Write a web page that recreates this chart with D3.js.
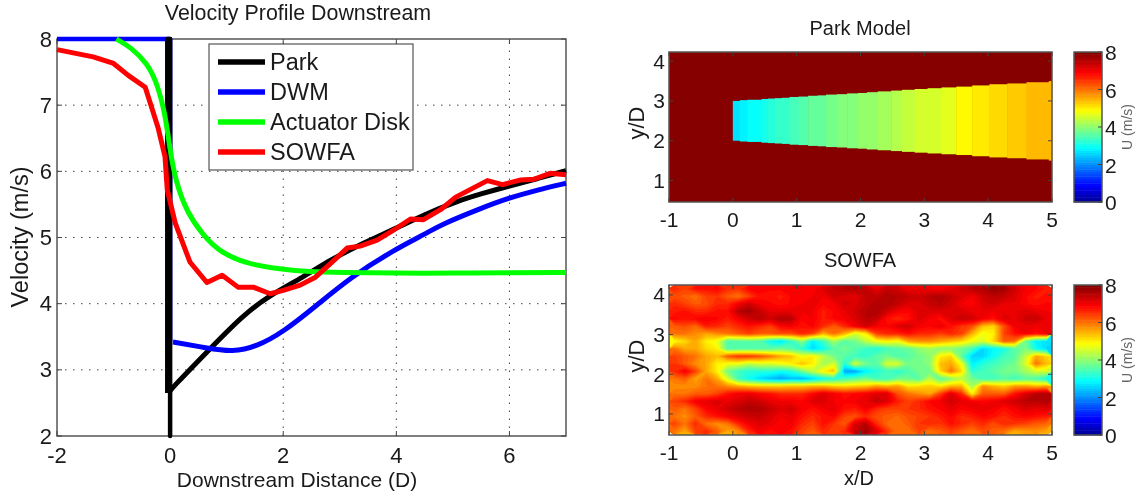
<!DOCTYPE html>
<html>
<head>
<meta charset="utf-8">
<script src="https://cdn.jsdelivr.net/npm/d3@7"></script>
<style>
html, body { margin: 0; padding: 0; background: #fff; }
svg { display: block; filter: blur(0.45px); }
text { font-family: "Liberation Sans", Arial, sans-serif; fill: #1a1a1a; }
.box { fill: none; stroke: #555; stroke-width: 1.5; }
.grid line { stroke: #444; stroke-width: 1; stroke-dasharray: 1.5 6.5; }
.tick-mark { stroke: #444; stroke-width: 1; }
</style>
</head>
<body>
<svg id="chart" width="1147" height="497"></svg>
<script>
// left panel
parkX = [0, 0.05, 0.65, 1.29, 1.77, 2.35, 2.83, 3.42, 4, 4.5, 5.08, 5.5, 6, 6.5, 7];
parkV = [2.68, 2.74, 3.27, 3.83, 4.13, 4.4, 4.66, 4.92, 5.14, 5.35, 5.55, 5.66, 5.78, 5.89, 6.01];
parkSpikeX = [-0.05, -0.05, 0, 0, 0];
parkSpikeV = [2.65, 8, 8, 2, 2.7];
dwmX = [-2, 0, 0, 0.05, 0.65, 1.1, 1.53, 2, 2.6, 3.18, 3.95, 4.55, 4.78, 5.49, 6, 6.5, 7];
dwmV = [8, 8, 3.42, 3.42, 3.33, 3.27, 3.35, 3.57, 3.98, 4.39, 4.81, 5.07, 5.19, 5.44, 5.6, 5.72, 5.82];
diskX = [-0.95, -0.7, -0.4, -0.23, -0.09, 0, 0.09, 0.3, 0.59, 0.88, 1.36, 1.95, 2.47, 3, 4, 5, 6, 7];
diskV = [8, 7.88, 7.63, 7.33, 6.88, 6.32, 5.87, 5.37, 5.03, 4.78, 4.6, 4.52, 4.48, 4.47, 4.46, 4.46, 4.47, 4.47];
sowfaX = [-2, -1.36, -1, -0.74, -0.44, -0.21, -0.09, -0.05, 0.09, 0.35, 0.65, 0.92, 1.2, 1.47, 1.77, 2, 2.3, 2.57, 2.83, 3.13, 3.36, 3.66, 3.95, 4.25, 4.48, 4.78, 5.05, 5.61, 5.88, 6.2, 6.43, 6.72, 7];
sowfaV = [7.84, 7.73, 7.63, 7.45, 7.27, 6.65, 6.22, 5.72, 5.22, 4.63, 4.32, 4.43, 4.25, 4.25, 4.15, 4.2, 4.28, 4.4, 4.6, 4.84, 4.87, 4.96, 5.11, 5.28, 5.27, 5.42, 5.61, 5.86, 5.8, 5.87, 5.88, 5.97, 5.95];
legendNames = ["Park", "DWM", "Actuator Disk", "SOWFA"];
lineColors = ["#000000", "#0000ff", "#00ff00", "#ff0000"];
xTicks = [-2, 0, 2, 4, 6];
yTicks = [2, 3, 4, 5, 6, 7, 8];

// park model bands
bandEdges = [0, 0.11, 0.23, 0.45, 0.55, 0.66, 0.77, 0.89, 1.03, 1.18, 1.33, 1.46, 1.63, 1.79, 1.96, 2.1, 2.27, 2.48, 2.65, 2.85, 3.05, 3.27, 3.5, 3.75, 4.02, 4.3, 4.6, 4.95, 5];
bandU = [2.7, 2.8, 2.95, 3.05, 3.15, 3.25, 3.35, 3.45, 3.55, 3.65, 3.72, 3.8, 3.88, 3.95, 4.02, 4.1, 4.2, 4.3, 4.4, 4.5, 4.6, 4.72, 4.9, 5.02, 5.17, 5.27, 5.38, 5.47, 5.6];
bandTop = [3.0, 3.02, 3.03, 3.05, 3.06, 3.07, 3.08, 3.1, 3.11, 3.13, 3.14, 3.16, 3.17, 3.19, 3.2, 3.22, 3.24, 3.26, 3.28, 3.3, 3.32, 3.34, 3.36, 3.39, 3.42, 3.44, 3.47, 3.5, 3.52];
bandBottom = [2.0, 1.98, 1.97, 1.95, 1.94, 1.93, 1.92, 1.9, 1.89, 1.87, 1.86, 1.84, 1.83, 1.81, 1.8, 1.78, 1.76, 1.74, 1.72, 1.7, 1.68, 1.66, 1.64, 1.61, 1.58, 1.56, 1.53, 1.5, 1.5];
freeStream = 8;

// sowfa field, rows top to bottom
sowfaU = [
  [6.6,6.4,6.8,6.8,6.9,6.6,6.5,6.9,7.0,6.9,6.9,7.0,7.0,6.9,7.2,7.4,7.5,7.6,7.4,7.1,7.4,7.3,7.0,7.1,7.0,6.9,7.1,7.3,7.5,7.6,7.8,7.7,7.3,7.0,6.9,6.7],
  [6.3,6.2,6.0,6.4,6.5,6.2,6.0,6.4,6.8,6.8,6.7,6.9,6.9,7.0,7.0,7.3,7.2,7.1,7.4,7.4,7.6,7.5,7.4,7.3,7.5,7.6,7.4,7.2,7.0,7.3,7.5,7.4,7.2,6.9,6.7,6.8],
  [6.6,6.4,6.2,6.3,6.6,6.6,7.0,7.3,7.0,6.9,6.8,6.9,7.0,7.1,6.9,7.0,7.3,7.2,7.4,7.6,7.6,7.4,7.2,7.2,7.4,7.5,7.3,7.0,6.9,7.2,7.3,7.1,7.1,6.9,6.8,6.9],
  [6.7,6.8,6.6,6.6,6.8,6.8,7.5,7.7,7.4,7.1,7.1,7.1,7.0,7.0,6.7,6.9,7.1,7.3,7.5,7.6,7.3,7.0,6.9,7.2,7.2,7.2,7.2,7.2,7.1,7.1,7.0,7.1,7.1,7.2,7.1,7.0],
  [6.9,6.8,6.9,7.0,6.9,6.7,7.0,7.3,7.5,7.3,7.6,7.5,6.9,7.0,6.7,6.9,7.0,7.2,7.5,7.4,6.8,6.6,6.8,7.2,7.0,6.8,7.2,7.4,7.3,7.0,6.8,7.2,7.1,7.3,7.4,7.1],
  [6.2,6.3,6.1,6.7,6.6,6.4,6.6,6.8,6.6,6.4,6.9,7.0,6.8,6.9,6.6,6.2,6.6,7.0,7.3,7.0,6.9,7.2,7.3,7.0,6.9,7.1,6.8,6.5,6.3,5.4,5.2,6.3,7.0,7.1,7.0,7.0],
  [6.0,6.0,5.8,5.6,5.8,6.0,6.2,6.4,6.2,6.2,6.3,6.3,6.6,6.4,5.5,6.0,5.5,4.6,5.0,6.4,6.6,6.6,6.8,6.6,6.6,6.4,6.6,6.4,5.5,4.8,5.0,6.4,6.8,7.0,6.8,7.0],
  [4.9,5.2,5.6,5.0,4.8,3.5,3.6,3.6,3.6,3.0,2.7,3.3,4.0,2.8,3.4,4.2,3.6,3.8,4.4,4.8,5.0,4.8,5.6,5.8,5.8,5.6,5.4,5.2,4.8,4.6,5.2,6.2,6.0,3.8,2.8,2.7],
  [6.0,5.6,5.6,5.2,5.0,3.6,3.6,3.6,3.6,3.6,3.8,3.6,3.3,2.6,3.0,3.6,3.8,3.6,3.3,3.2,3.4,3.6,3.7,4.0,4.2,4.0,4.0,3.8,3.4,2.6,2.9,3.1,3.6,3.9,3.0,2.6],
  [6.4,6.2,6.0,5.6,5.4,6.2,6.5,6.5,6.3,6.0,5.6,5.4,4.8,5.0,4.4,3.8,3.6,3.4,3.3,3.6,3.8,3.5,3.6,3.8,4.0,5.0,5.2,3.6,2.6,2.6,3.0,3.4,3.6,4.4,5.6,5.2],
  [6.5,6.2,5.8,5.6,5.0,4.8,4.8,4.4,4.6,4.6,4.8,5.0,5.4,5.0,4.2,4.6,3.2,4.6,3.8,3.6,4.6,4.6,3.8,3.8,4.0,5.4,5.6,4.8,2.8,3.2,3.4,3.6,3.8,4.6,6.0,5.4],
  [6.6,7.0,6.4,5.6,5.0,3.8,3.4,3.2,3.2,3.2,3.0,3.2,3.8,4.4,5.0,5.4,2.2,2.2,2.8,3.2,3.4,3.2,3.5,3.8,3.8,5.2,6.0,5.2,3.2,3.4,3.6,3.8,3.8,4.2,4.6,4.6],
  [6.0,6.2,5.6,6.0,5.6,4.6,3.4,3.0,2.6,2.4,2.2,2.4,2.3,2.6,3.0,3.2,3.4,3.6,3.8,3.4,3.4,3.8,3.8,3.6,4.4,3.6,4.0,4.4,3.8,3.4,3.4,3.6,3.4,3.6,3.5,3.0],
  [5.8,5.8,5.8,6.0,6.0,5.8,5.6,5.4,5.3,5.3,5.3,5.4,5.4,5.5,5.5,5.3,5.2,5.3,5.4,5.7,5.5,5.7,5.1,5.2,5.3,5.1,5.5,5.5,4.2,5.8,5.5,5.3,5.7,5.7,5.5,5.7],
  [6.0,6.0,6.2,6.2,6.4,6.8,7.0,7.1,6.9,6.8,6.6,6.6,6.6,6.9,7.2,7.0,6.8,6.9,7.0,7.2,7.2,6.3,6.0,5.8,5.6,6.4,7.2,6.6,5.0,6.2,6.2,6.2,6.8,7.2,7.5,7.6],
  [6.4,6.6,7.0,7.1,7.2,7.1,7.2,7.4,7.3,7.1,7.0,7.0,6.9,7.2,7.2,7.0,6.9,7.0,7.1,7.4,7.2,6.7,6.4,6.6,6.9,7.0,7.3,7.1,7.0,6.9,7.0,7.2,7.3,7.5,7.5,7.6],
  [6.2,6.0,6.4,6.9,7.1,7.3,7.5,7.6,7.6,7.4,7.2,7.3,7.0,6.8,7.0,7.1,6.8,6.7,7.0,6.6,6.4,6.4,6.5,6.6,6.8,6.9,7.1,6.9,7.0,7.1,7.0,6.8,7.0,7.2,7.1,7.2],
  [6.0,5.8,6.2,6.6,6.8,7.0,7.2,7.3,7.4,7.2,7.0,7.1,6.8,6.6,6.8,6.9,6.4,6.3,6.6,6.3,6.2,6.1,6.3,6.4,6.5,6.7,6.9,6.6,6.7,6.9,6.8,6.6,6.8,6.9,6.8,6.7],
  [6.4,6.0,6.6,6.0,5.8,6.0,6.6,7.0,7.2,7.1,6.9,7.0,6.6,6.4,6.8,6.5,6.2,7.2,7.5,6.6,6.1,6.0,6.2,6.5,6.6,6.5,6.8,6.6,6.4,6.6,6.3,6.6,6.5,6.4,6.2,6.1],
  [6.0,5.6,6.4,6.6,6.2,5.6,5.8,6.6,7.0,6.8,7.0,6.8,6.4,6.2,6.6,6.4,6.6,7.4,7.7,7.2,6.5,6.0,6.0,6.4,6.0,6.2,6.4,6.2,6.0,6.3,6.2,6.0,5.6,5.7,5.8,5.6]
];
heatXTicks = [-1, 0, 1, 2, 3, 4, 5];
heatYTicks = [1, 2, 3, 4];
barTicks = [0, 2, 4, 6, 8];

// matlab jet, 64 steps
var jetRaw = d3.scaleLinear()
  .domain([0, 0.89, 2.9, 4.9, 6.9, 8])
  .range(["#00008f", "#0000ff", "#00ffff", "#ffff00", "#ff0000", "#800000"])
  .clamp(true);
function jet(u) {
  return jetRaw((Math.min(Math.floor(u / 0.125), 63) + 0.5) * 0.125);
}

var svg = d3.select("#chart");

// ---- left line chart ----
var x = d3.scaleLinear().domain([-2, 7]).range([57, 566]);
var y = d3.scaleLinear().domain([2, 8]).range([436, 39]);

var line = d3.line()
  .x(function(d) { return x(d[0]); })
  .y(function(d) { return y(d[1]); });

var smooth = d3.line()
  .x(function(d) { return x(d[0]); })
  .y(function(d) { return y(d[1]); })
  .curve(d3.curveBasis);

var gridX = svg.append("g").attr("class", "grid");
gridX.selectAll("line").data(xTicks.slice(1)).enter().append("line")
  .attr("x1", x).attr("x2", x).attr("y1", y(2)).attr("y2", y(8));
var gridY = svg.append("g").attr("class", "grid");
gridY.selectAll("line").data(yTicks.slice(1, -1)).enter().append("line")
  .attr("y1", y).attr("y2", y).attr("x1", x(-2)).attr("x2", x(7));

svg.append("rect").attr("class", "box")
  .attr("x", x(-2)).attr("y", y(8))
  .attr("width", x(7) - x(-2)).attr("height", y(2) - y(8));

xTicks.forEach(function(t) {
  [[y(2), y(2) - 5], [y(8), y(8) + 5]].forEach(function(p) {
    svg.append("line").attr("class", "tick-mark").attr("x1", x(t)).attr("x2", x(t)).attr("y1", p[0]).attr("y2", p[1]);
  });
});
yTicks.forEach(function(t) {
  [[x(-2), x(-2) + 5], [x(7), x(7) - 5]].forEach(function(p) {
    svg.append("line").attr("class", "tick-mark").attr("y1", y(t)).attr("y2", y(t)).attr("x1", p[0]).attr("x2", p[1]);
  });
});

svg.append("g").selectAll("text").data(xTicks).enter().append("text")
  .attr("x", x).attr("y", 463)
  .attr("text-anchor", "middle").attr("font-size", 22)
  .text(function(d) { return d; });
svg.append("g").selectAll("text").data(yTicks).enter().append("text")
  .attr("x", 52).attr("y", function(d) { return y(d) + 7.5; })
  .attr("text-anchor", "end").attr("font-size", 22)
  .text(function(d) { return d; });

svg.append("text").attr("x", 298).attr("y", 20)
  .attr("text-anchor", "middle").attr("font-size", 21.4)
  .text("Velocity Profile Downstream");
svg.append("text").attr("x", 297).attr("y", 487)
  .attr("text-anchor", "middle").attr("font-size", 21)
  .text("Downstream Distance (D)");
svg.append("text").attr("transform", "translate(28,237) rotate(-90)")
  .attr("text-anchor", "middle").attr("font-size", 23.5)
  .text("Velocity (m/s)");

function draw(gen, xs, ys, color, w) {
  svg.append("path")
    .datum(xs.map(function(d, i) { return [d, ys[i]]; }))
    .attr("d", gen)
    .attr("fill", "none")
    .attr("stroke", color)
    .attr("stroke-width", w)
    .attr("stroke-linejoin", "round");
}

draw(smooth, parkX, parkV, lineColors[0], 5);
draw(line, dwmX.slice(0, 3), dwmV.slice(0, 3), lineColors[1], 4.5);
draw(smooth, dwmX.slice(3), dwmV.slice(3), lineColors[1], 5);
draw(line, parkSpikeX, parkSpikeV, lineColors[0], 4.5);
draw(smooth, diskX, diskV, lineColors[2], 5);
draw(line, sowfaX, sowfaV, lineColors[3], 5);

// legend
var legend = svg.append("g");
legend.append("rect").attr("x", 209).attr("y", 44).attr("width", 204).attr("height", 126)
  .attr("fill", "#fff").attr("stroke", "#555").attr("stroke-width", 1.2);
var legendY = d3.scalePoint().domain(legendNames).range([62, 152]);
legendNames.forEach(function(name, i) {
  legend.append("line")
    .attr("x1", 218).attr("x2", 265)
    .attr("y1", legendY(name)).attr("y2", legendY(name))
    .attr("stroke", lineColors[i]).attr("stroke-width", 5.5);
  legend.append("text")
    .attr("x", 270).attr("y", legendY(name) + 8)
    .attr("font-size", 23.5)
    .text(name);
});

// ---- right heat panels ----
var hx = d3.scaleLinear().domain([-1, 5]).range([669, 1052]);

function heatFrame(top, hy, title, titleY, xLabel) {
  var bottom = top + 150;

  // colorbar
  var by = d3.scaleLinear().domain([0, 8]).range([bottom, top]);
  svg.append("g").selectAll("rect").data(d3.range(64)).enter().append("rect")
    .attr("x", 1074).attr("width", 28)
    .attr("y", function(d) { return by((d + 1) * 0.125); })
    .attr("height", by(0) - by(0.125) + 0.5)
    .attr("fill", function(d) { return jet(d * 0.125); });
  svg.append("rect").attr("class", "box").attr("x", 1074).attr("y", top).attr("width", 28).attr("height", 150);
  barTicks.forEach(function(t) {
    svg.append("line").attr("class", "tick-mark").attr("x1", 1098).attr("x2", 1102).attr("y1", by(t)).attr("y2", by(t));
    svg.append("text").attr("x", 1105).attr("y", by(t) + 8).attr("font-size", 21).text(t);
  });
  svg.append("text").attr("transform", "translate(1132," + (top + 75) + ") rotate(-90)")
    .attr("text-anchor", "middle").attr("font-size", 14).style("fill", "#666")
    .text("U (m/s)");

  // frame and ticks
  svg.append("rect").attr("class", "box").attr("x", 669).attr("y", top).attr("width", 383).attr("height", 150);
  heatXTicks.forEach(function(t) {
    [[bottom, bottom - 4], [top, top + 4]].forEach(function(p) {
      svg.append("line").attr("class", "tick-mark").attr("x1", hx(t)).attr("x2", hx(t)).attr("y1", p[0]).attr("y2", p[1]);
    });
    svg.append("text").attr("x", hx(t)).attr("y", bottom + 25)
      .attr("text-anchor", "middle").attr("font-size", 21).text(t);
  });
  heatYTicks.forEach(function(t) {
    [[669, 673], [1052, 1048]].forEach(function(p) {
      svg.append("line").attr("class", "tick-mark").attr("y1", hy(t)).attr("y2", hy(t)).attr("x1", p[0]).attr("x2", p[1]);
    });
    svg.append("text").attr("x", 665).attr("y", hy(t) + 7.5)
      .attr("text-anchor", "end").attr("font-size", 21).text(t);
  });
  svg.append("text").attr("transform", "translate(644," + (top + 71) + ") rotate(-90)")
    .attr("text-anchor", "middle").attr("font-size", 22).text("y/D");
  svg.append("text").attr("x", 860).attr("y", titleY)
    .attr("text-anchor", "middle").attr("font-size", 20).text(title);
  if (xLabel) {
    svg.append("text").attr("x", 859).attr("y", 485)
      .attr("text-anchor", "middle").attr("font-size", 20).text(xLabel);
  }
}

// park model
var parkY = d3.scaleLinear().domain([0.46, 4.23]).range([202, 52]);
svg.append("rect").attr("x", 669).attr("y", 52).attr("width", 383).attr("height", 150).attr("fill", jet(freeStream));
svg.append("g").selectAll("rect").data(bandU).enter().append("rect")
  .attr("x", function(d, i) { return hx(bandEdges[i]); })
  .attr("width", function(d, i) { return hx(bandEdges[i + 1]) - hx(bandEdges[i]) + 0.5; })
  .attr("y", function(d, i) { return parkY(bandTop[i]); })
  .attr("height", function(d, i) { return parkY(bandBottom[i]) - parkY(bandTop[i]); })
  .attr("fill", function(d) { return jet(d); });
heatFrame(52, parkY, "Park Model", 35, null);

// sowfa, filled contours of the read-off grid
var sowfaTop = 285;
var sowfaY = d3.scaleLinear().domain([0.47, 4.25]).range([435, 285]);
var rows = sowfaU.length, cols = sowfaU[0].length;
var gx = d3.scaleLinear().domain([0, cols]).range([669, 1052]);
var gy = d3.scaleLinear().domain([0, rows]).range([285, 435]);
var contours = d3.contours().size([cols, rows]).smooth(true)
  .thresholds(d3.range(0, 8, 0.125))(d3.merge(sowfaU));
var contourPath = d3.geoPath(d3.geoTransform({
  point: function(a, b) { this.stream.point(gx(a), gy(b)); }
}));
svg.append("g").selectAll("path").data(contours).enter().append("path")
  .attr("d", contourPath)
  .attr("fill", function(d) { return jet(d.value); });
heatFrame(sowfaTop, sowfaY, "SOWFA", 267, "x/D");
</script>
</body>
</html>
